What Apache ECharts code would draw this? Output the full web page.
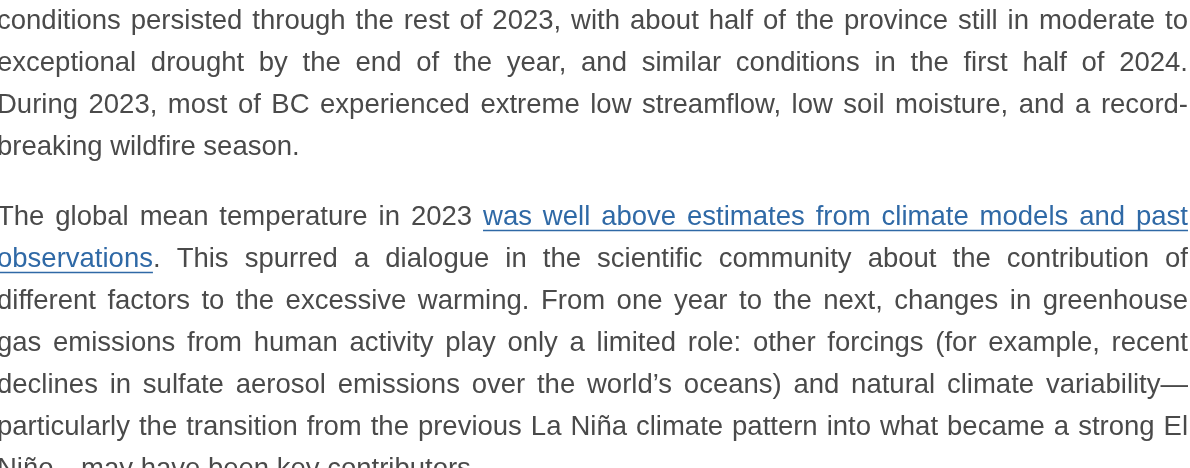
<!DOCTYPE html>
<html>
<head>
<meta charset="utf-8">
<script src="https://cdn.jsdelivr.net/npm/echarts@6/dist/echarts.min.js"></script>
<style>
html,body{margin:0;padding:0;background:#fff;}
#chart{width:1190px;height:468px;}
</style>
</head>
<body>
<div id="chart"></div>
<script>
// Text content, one entry per rendered line. {…} marks hyperlink text.
var paragraph1Lines = [
  "conditions persisted through the rest of 2023, with about half of the province still in moderate to",
  "exceptional drought by the end of the year, and similar conditions in the first half of 2024.",
  "During 2023, most of BC experienced extreme low streamflow, low soil moisture, and a record-",
  "breaking wildfire season."
];
var paragraph2Lines = [
  "The global mean temperature in 2023 {was well above estimates from climate models and past}",
  "{observations}. This spurred a dialogue in the scientific community about the contribution of",
  "different factors to the excessive warming. From one year to the next, changes in greenhouse",
  "gas emissions from human activity play only a limited role: other forcings (for example, recent",
  "declines in sulfate aerosol emissions over the world\u2019s oceans) and natural climate variability\u2014",
  "particularly the transition from the previous La Ni\u00f1a climate pattern into what became a strong El",
  "Ni\u00f1o\u2014may have been key contributors."
];
// whether each line is justified (last line of a paragraph is not)
var paragraph1Justify = [true, true, true, false];
var paragraph2Justify = [true, true, true, true, true, true, false];

var FONT_SIZE = 27.5;
var FONT_FAMILY = '"Liberation Sans", Arial, sans-serif';
var FONT = FONT_SIZE + 'px ' + FONT_FAMILY;
var TEXT_COLOR = '#4a4a4a';
var LINK_COLOR = '#2f69a6';
var LEFT = -3, RIGHT = 1188;
var LINE_STEP = 42;
var P1_BASE = 31, P2_BASE = 227;

var ctx = document.createElement('canvas').getContext('2d');
ctx.font = FONT;
function w(s){ return ctx.measureText(s).width; }

var elements = [];
var linkState = false;
function layoutLine(line, justify, baseline){
  var words = line.split(' ');
  var parsed = [];
  words.forEach(function(wd){
    var runs = [], cur = '';
    for (var i = 0; i < wd.length; i++) {
      var ch = wd[i];
      if (ch === '{') { if (cur) runs.push({text: cur, link: linkState}); cur=''; linkState = true; }
      else if (ch === '}') { if (cur) runs.push({text: cur, link: linkState}); cur=''; linkState = false; }
      else cur += ch;
    }
    if (cur) runs.push({text: cur, link: linkState});
    var width = 0;
    runs.forEach(function(r){ r.w = w(r.text); width += r.w; });
    parsed.push({runs: runs, w: width});
  });
  var total = parsed.reduce(function(a, p){ return a + p.w; }, 0);
  var gap = justify && parsed.length > 1 ? (RIGHT - LEFT - total) / (parsed.length - 1) : w(' ');
  var x = LEFT;
  var ul = null, underlines = [];
  parsed.forEach(function(p){
    p.runs.forEach(function(r){
      elements.push({
        type: 'text', silent: true,
        style: {
          text: r.text, x: x, y: baseline - 0.3465 * FONT_SIZE,
          font: FONT, fill: r.link ? LINK_COLOR : TEXT_COLOR,
          textAlign: 'left', textVerticalAlign: 'middle'
        }
      });
      if (r.link) {
        if (ul) ul.x2 = x + r.w; else ul = {x1: x, x2: x + r.w};
      } else if (ul) { underlines.push(ul); ul = null; }
      x += r.w;
    });
    x += gap;
  });
  if (ul) underlines.push(ul);
  underlines.forEach(function(u){
    elements.push({
      type: 'line', silent: true,
      shape: {x1: u.x1, y1: baseline + 3.5, x2: u.x2, y2: baseline + 3.5},
      style: {stroke: LINK_COLOR, lineWidth: 1.3}
    });
  });
}

paragraph1Lines.forEach(function(l, i){ layoutLine(l, paragraph1Justify[i], P1_BASE + i * LINE_STEP); });
linkState = false;
paragraph2Lines.forEach(function(l, i){ layoutLine(l, paragraph2Justify[i], P2_BASE + i * LINE_STEP); });

var chart = echarts.init(document.getElementById('chart'), null, {renderer: 'canvas'});
chart.setOption({
  backgroundColor: '#ffffff',
  animation: false,
  graphic: { elements: elements }
});
</script>
</body>
</html>
